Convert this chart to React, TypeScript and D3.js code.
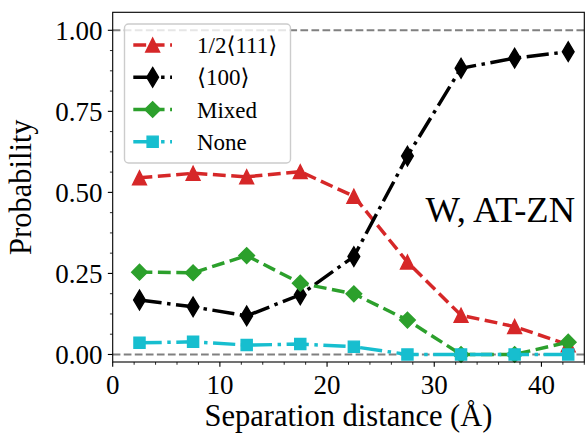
import React from 'react';
import * as d3 from 'd3';

const separation = [2.5, 7.5, 12.5, 17.5, 22.5, 27.5, 32.5, 37.5, 42.5];
const half111 = [0.545, 0.559, 0.548, 0.564, 0.488, 0.285, 0.121, 0.086, 0.03];
const hundred = [0.168, 0.147, 0.119, 0.184, 0.302, 0.612, 0.883, 0.914, 0.934];
const mixed = [0.254, 0.252, 0.305, 0.22, 0.187, 0.106, 0, 0, 0.038];
const none = [0.036, 0.039, 0.029, 0.032, 0.024, 0, 0, 0, 0];

const seriesNames = ['1/2\u27E8111\u27E9', '\u27E8100\u27E9', 'Mixed', 'None'];
const seriesColors = ['#d62728', '#000000', '#2ca02c', '#17becf'];
const seriesMarkers = ['triangle', 'thindiamond', 'diamond', 'square'];
const seriesDash = ['dashed', 'dashdot', 'dashed', 'dashdot'];

const xTicks = [0, 10, 20, 30, 40];
const xTickLabels = ['0', '10', '20', '30', '40'];
const yTicks = [0, 0.25, 0.5, 0.75, 1.0];
const yTickLabels = ['0.00', '0.25', '0.50', '0.75', '1.00'];
const refLines = [0, 1];
const xLabel = 'Separation distance (\u00C5)';
const yLabel = 'Probability';
const annotation = 'W, AT-ZN';

const W = 586;
const H = 440;
const left = 112.7;
const right = 584.3;
const top = 12.3;
const bottom = 362;
const FONT = '"Liberation Serif", "DejaVu Serif", serif';
const BRACKET_FONT = '"DejaVu Serif", "DejaVu Sans", serif';

const x = d3.scaleLinear().domain([0, 44]).range([left, right]);
const y = d3.scaleLinear().domain([-0.0232, 1.0555]).range([bottom, top]);

const PT = 100 / 72;
const LW = 2.5 * PT;
const dashArr: Record<string, string> = {
  dashed: `${3.7 * LW} ${1.6 * LW}`,
  dashdot: `${6.4 * LW} ${1.6 * LW} ${1 * LW} ${1.6 * LW}`,
};

function markerPath(type: string): string {
  if (type === 'triangle') {
    const s = 5 * PT;
    return `M0,${-s}L${-s},${s}L${s},${s}Z`;
  }
  if (type === 'thindiamond') {
    const h = 0.7071 * 10 * PT;
    const w = 0.6 * h;
    return `M0,${-h}L${w},0L0,${h}L${-w},0Z`;
  }
  if (type === 'diamond') {
    const h = 0.7071 * 8 * PT;
    return `M0,${-h}L${h},0L0,${h}L${-h},0Z`;
  }
  const s = 4 * PT;
  return `M${-s},${-s}L${s},${-s}L${s},${s}L${-s},${s}Z`;
}

function renderLabel(name: string) {
  const parts = name.split(/([\u27E8\u27E9])/).filter((p) => p.length > 0);
  return parts.map((p, i) =>
    p === '\u27E8' || p === '\u27E9' ? (
      <tspan key={i} fontFamily={BRACKET_FONT} fontWeight={300}>{p}</tspan>
    ) : (
      <tspan key={i}>{p}</tspan>
    )
  );
}

export default function App() {
  const allSeries = [half111, hundred, mixed, none];
  const line = d3
    .line<number>()
    .x((_, i) => x(separation[i]))
    .y((d) => y(d));

  const xMinor = d3.range(0, 44.01, 2).filter((v) => v % 10 !== 0);
  const yMinor = d3.range(0, 1.06, 0.0625).filter((v) => Math.abs((v / 0.25) - Math.round(v / 0.25)) > 1e-6);

  const legX = 124.5;
  const legY = 24;
  const legW = 166;
  const legH = 139;
  const rowY = [45, 77.3, 109.5, 141.7];
  const hx0 = 133.3;
  const hx1 = 172;

  return (
    <svg width={W} height={H} style={{ position: 'absolute', left: 0, top: 0, background: '#fff' }} fontFamily={FONT}>
      <rect x={0} y={0} width={W} height={H} fill="#fff" />
      {refLines.map((v) => (
        <line key={v} x1={left} x2={right} y1={y(v)} y2={y(v)} stroke="#808080" strokeWidth={1.5 * PT} strokeDasharray={`${3.7 * 1.5 * PT} ${1.6 * 1.5 * PT}`} />
      ))}
      {allSeries.map((s, k) => (
        <g key={k}>
          <path d={line(s) || ''} fill="none" stroke={seriesColors[k]} strokeWidth={LW} strokeDasharray={dashArr[seriesDash[k]]} />
          {s.map((v, i) => (
            <path
              key={i}
              d={markerPath(seriesMarkers[k])}
              transform={`translate(${x(separation[i])},${y(v)})`}
              fill={seriesColors[k]}
              stroke={seriesColors[k]}
              strokeWidth={PT}
            />
          ))}
        </g>
      ))}
      <rect x={left} y={top} width={right - left} height={bottom - top} fill="none" stroke="#000" strokeWidth={0.8 * PT} />
      {xTicks.map((t, i) => (
        <g key={t}>
          <line x1={x(t)} x2={x(t)} y1={bottom} y2={bottom + 3.5 * PT} stroke="#000" strokeWidth={0.8 * PT} />
          <text x={x(t)} y={394} textAnchor="middle" fontSize={27}>{xTickLabels[i]}</text>
        </g>
      ))}
      {xMinor.map((t) => (
        <line key={t} x1={x(t)} x2={x(t)} y1={bottom} y2={bottom + 2 * PT} stroke="#000" strokeWidth={0.6 * PT} />
      ))}
      {yTicks.map((t, i) => (
        <g key={t}>
          <line x1={left} x2={left - 3.5 * PT} y1={y(t)} y2={y(t)} stroke="#000" strokeWidth={0.8 * PT} />
          <text x={102.5} y={y(t)} dy="0.35em" textAnchor="end" fontSize={27}>{yTickLabels[i]}</text>
        </g>
      ))}
      {yMinor.map((t) => (
        <line key={t} x1={left} x2={left - 2 * PT} y1={y(t)} y2={y(t)} stroke="#000" strokeWidth={0.6 * PT} />
      ))}
      <text x={(left + right) / 2} y={426} textAnchor="middle" fontSize={30.5}>{xLabel}</text>
      <text transform={`translate(31,${(top + bottom) / 2}) rotate(-90)`} textAnchor="middle" fontSize={30.5}>{yLabel}</text>
      <text x={575} y={222} textAnchor="end" fontSize={36.5}>{annotation}</text>
      <rect x={legX} y={legY} width={legW} height={legH} rx={4} ry={4} fill="#fff" fillOpacity={0.8} stroke="#cccccc" strokeWidth={1.4} />
      {seriesNames.map((name, k) => (
        <g key={name}>
          <line x1={hx0} x2={hx1} y1={rowY[k]} y2={rowY[k]} stroke={seriesColors[k]} strokeWidth={LW} strokeDasharray={dashArr[seriesDash[k]]} />
          <path d={markerPath(seriesMarkers[k])} transform={`translate(${(hx0 + hx1) / 2},${rowY[k]})`} fill={seriesColors[k]} stroke={seriesColors[k]} strokeWidth={PT} />
          <text x={197} y={rowY[k]} dy="0.35em" fontSize={23}>{renderLabel(name)}</text>
        </g>
      ))}
    </svg>
  );
}
